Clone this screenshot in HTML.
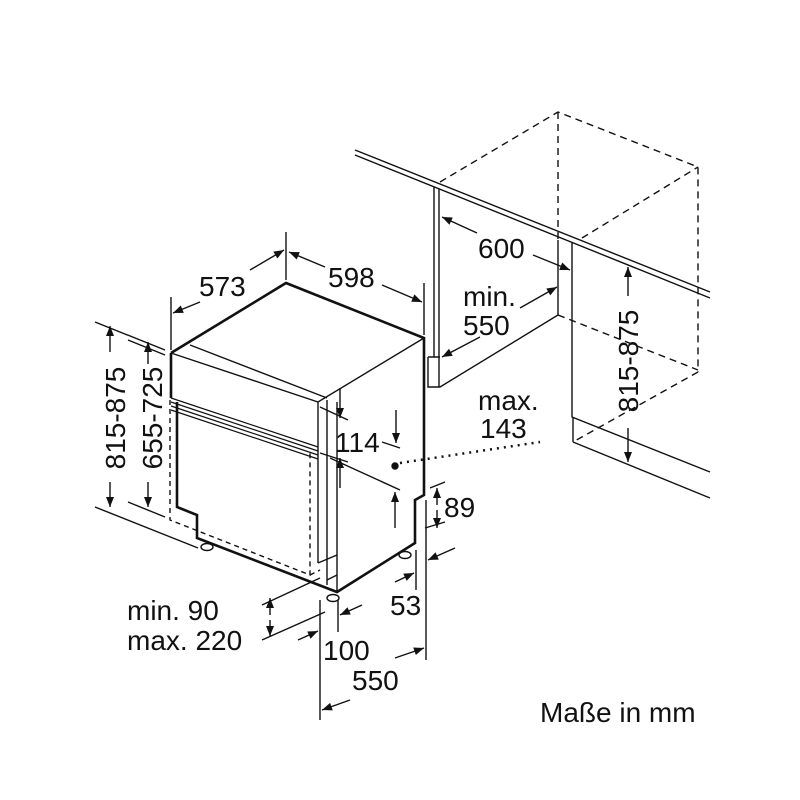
<!DOCTYPE html>
<html><head><meta charset="utf-8"><style>
html,body{margin:0;padding:0;background:#fff}
svg{display:block}
text{font-family:"Liberation Sans",sans-serif;font-size:28px;fill:#111}
</style></head><body>
<svg width="800" height="800" viewBox="0 0 800 800" xmlns="http://www.w3.org/2000/svg">
<defs>
<marker id="a" viewBox="0 0 10 10" refX="10" refY="5" markerWidth="14" markerHeight="10" orient="auto-start-reverse" markerUnits="userSpaceOnUse"><path d="M0,1 L10,5 L0,9 z" fill="#111"/></marker>
</defs>
<g fill="none" stroke="#111" stroke-width="1.4">
<path d="M355,150 L710,292 M355,155 L710,298"/>
<path d="M434,187 L434,357 M439,189 L439,387 M428,357 L440,357 M428,357 L428,387 L440,387 L558,315"/>
<path d="M558,240 L558,315 M572,243 L572,417 L710,472 M573,442 L710,498 M573,417 L573,442"/>
<g stroke-dasharray="7,5">
<path d="M440,182 L558,112 L698,167 L698,372 M558,112 L558,240 M582,238 L698,167 M558,315 L698,370 M698,372 L573,442"/>
</g>
<g stroke-width="2.6">
<path d="M171,353 L286,283 L424,338 L424,495 L415,500 L415,543 L337,592 L197,538 L197,515 L177,507 L177,402 M171,353 L171,398"/>
</g>
<path d="M171,353 L318,402 L424,338 M318,402 L318,563 M327,400 L327,585 M337,402 L337,592 M190,345 L327,398"/>
<path d="M171,398 L318,447 M171,402 L318,451 M171,406 L318,455 M171,410 L318,459" stroke-width="1.2"/>
<path d="M318,563 L337,555 M327,580 L337,575"/>
<g stroke-dasharray="5,4"><path d="M170,400 L170,520 L310,575 L310,450 M310,575 L320,570"/></g>
<ellipse cx="207" cy="547" rx="6" ry="3.5"/><ellipse cx="333" cy="598" rx="6" ry="3.5"/><ellipse cx="405" cy="555" rx="6" ry="3.5"/>
<path d="M171,297 L171,350 M286,232 L286,280 M424,283 L424,335"/>
<path d="M200,302 L173,313" marker-end="url(#a)"/><path d="M250,270 L284,250" marker-end="url(#a)"/>
<path d="M325,267 L289,252" marker-end="url(#a)"/><path d="M382,285 L422,302" marker-end="url(#a)"/>
<path d="M95,322 L165,350 M95,507 L198,548 M128,340 L165,355 M128,502 L165,517"/>
<path d="M110,352 L110,326" marker-end="url(#a)"/><path d="M110,482 L110,507" marker-end="url(#a)"/>
<path d="M148,364 L148,342" marker-end="url(#a)"/><path d="M148,482 L148,507" marker-end="url(#a)"/>
<path d="M340,388 L340,418" marker-end="url(#a)"/><path d="M340,488 L340,458" marker-end="url(#a)"/>
<path d="M320,407 L348,420 M320,453 L348,462 M382,442 L400,448 M330,458 L400,490"/>
<path d="M396,410 L396,443" marker-end="url(#a)"/><path d="M395,528 L395,492" marker-end="url(#a)"/>
<path d="M400,463 L540,442" stroke-dasharray="2,5" stroke-width="2.5"/>
<circle cx="395" cy="466" r="3" fill="#111"/>
<path d="M430,488 L445,482 M425,528 L445,522"/>
<path d="M437,505 L437,488" marker-end="url(#a)"/><path d="M437,510 L437,528" marker-end="url(#a)"/>
<path d="M416,550 L416,590 M426,500 L426,660"/>
<path d="M395,582 L414,573" marker-end="url(#a)"/><path d="M455,548 L428,560" marker-end="url(#a)"/>
<path d="M320,600 L320,720 M338,600 L338,632"/>
<path d="M298,640 L318,631" marker-end="url(#a)"/><path d="M362,605 L340,615" marker-end="url(#a)"/>
<path d="M395,658 L424,648" marker-end="url(#a)"/><path d="M350,700 L322,710" marker-end="url(#a)"/>
<path d="M262,605 L320,578 M262,640 L325,612"/>
<path d="M270,615 L270,598" marker-end="url(#a)"/><path d="M270,620 L270,636" marker-end="url(#a)"/>
<path d="M477,233 L442,217" marker-end="url(#a)"/><path d="M533,255 L570,270" marker-end="url(#a)"/>
<path d="M520,308 L557,287" marker-end="url(#a)"/><path d="M480,337 L442,357" marker-end="url(#a)"/>
<path d="M628,296 L628,267" marker-end="url(#a)"/><path d="M628,428 L628,462" marker-end="url(#a)"/>
</g>
<text x="199" y="296">573</text>
<text x="328" y="287">598</text>
<text x="478" y="258">600</text>
<text x="463" y="306">min.</text>
<text x="463" y="335">550</text>
<text x="478" y="410">max.</text>
<text x="480" y="438">143</text>
<text x="335" y="452">114</text>
<text x="444" y="517">89</text>
<text x="390" y="615">53</text>
<text x="323" y="660">100</text>
<text x="352" y="690">550</text>
<text x="127" y="620">min. 90</text>
<text x="127" y="650">max. 220</text>
<text x="540" y="722">Maße in mm</text>
<text transform="translate(125,418) rotate(-90)" text-anchor="middle">815-875</text>
<text transform="translate(162,418) rotate(-90)" text-anchor="middle">655-725</text>
<text transform="translate(638,361) rotate(-90)" text-anchor="middle">815-875</text>
</svg>
</body></html>
